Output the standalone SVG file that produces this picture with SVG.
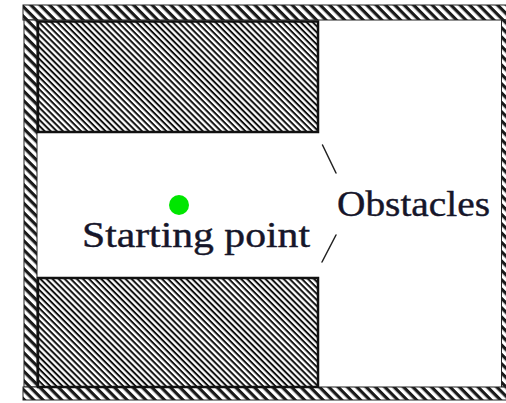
<svg xmlns="http://www.w3.org/2000/svg" width="506" height="403" viewBox="0 0 506 403">
  <style>
    .wall { fill: url(#wallHatch); stroke: #222; stroke-width: 1; }
    .obstacle { fill: url(#fineHatch); stroke: #111; stroke-width: 2.5; }
    .label { font-size: 35px; fill: #16162a; stroke: #16162a; stroke-width: 0.4; }
    .leader { stroke: #222; stroke-width: 1.5; fill: none; stroke-linecap: round; }
  </style>
  <defs>
    <!-- coarse diagonal hatching for the surrounding walls -->
    <pattern id="wallHatch" width="6.6" height="6.6" patternUnits="userSpaceOnUse" patternTransform="rotate(45)">
      <rect width="6.6" height="6.6" fill="#fff"/>
      <rect width="6.6" height="3.2" fill="#1a1a1a"/>
    </pattern>
    <!-- fine diagonal hatching for the obstacle blocks -->
    <pattern id="fineHatch" width="4.3" height="4.3" patternUnits="userSpaceOnUse" patternTransform="rotate(45)">
      <rect width="4.3" height="4.3" fill="#fff"/>
      <rect width="4.3" height="2" fill="#111"/>
    </pattern>
  </defs>

  <rect width="506" height="403" fill="#fff"/>

  <!-- outer enclosure -->
  <g id="walls">
    <rect class="wall" x="23" y="5" width="490" height="15"/>
    <rect class="wall" x="24" y="20" width="13" height="367"/>
    <rect class="wall" x="501.5" y="20" width="10" height="367"/>
    <rect class="wall" x="23" y="387" width="490" height="13"/>
  </g>

  <g id="obstacle-top">
    <rect class="obstacle" x="38" y="21.5" width="280" height="110.5"/>
  </g>

  <g id="obstacle-bottom">
    <rect class="obstacle" x="38" y="278" width="280" height="109"/>
  </g>

  <g id="starting-point">
    <circle cx="179" cy="205" r="10" fill="#00e600"/>
    <text class="label" font-family="'Liberation Serif', 'Times New Roman', serif" x="82" y="247" textLength="228" lengthAdjust="spacingAndGlyphs">Starting point</text>
  </g>

  <g id="obstacles-label">
    <text class="label" font-family="'Liberation Serif', 'Times New Roman', serif" x="337" y="216" textLength="153" lengthAdjust="spacingAndGlyphs">Obstacles</text>
  </g>

  <!-- leader lines from the label to each obstacle -->
  <g id="connectors">
    <line class="leader" x1="322.5" y1="145" x2="336" y2="173"/>
    <line class="leader" x1="336" y1="235" x2="322" y2="262"/>
  </g>
</svg>
